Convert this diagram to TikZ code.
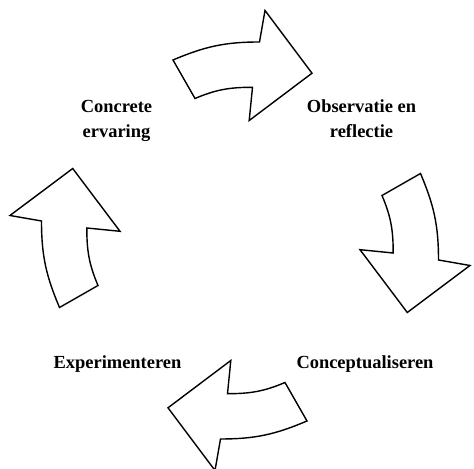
\documentclass[tikz,border=0pt]{standalone}
\usepackage{fontspec}
\setmainfont{Liberation Serif}

\begin{document}
\begin{tikzpicture}[x=0.02cm, y=0.02cm, thick,
  stage/.style={align=center, inner sep=0pt, anchor=north,
    font=\fontsize{10.5}{14.2}\selectfont\bfseries}]
  \useasboundingbox (0,0) rectangle (474,469);
  \foreach \ang in {0,-90,-180,-270}
    \draw [shift={(240,228.5)}, rotate=\ang]
      (-67,180.5) to [out=23, in=180] (19.5,198.5) -- (25,230) -- (72,167.3)
      -- (9.2,120) -- (12.5,153.2) to [out=180, in=23] (-45,142) -- cycle;
  \path node (conc)    at (116.5,369.5) [stage] {Concrete\\ervaring}
        node (obs)     at (361.5,369.5) [stage] {Observatie en\\reflectie}
        node (exper)   at (117.5,114)   [stage] {Experimenteren}
        node (concept) at (365,114)     [stage] {Conceptualiseren};
\end{tikzpicture}
\end{document}
